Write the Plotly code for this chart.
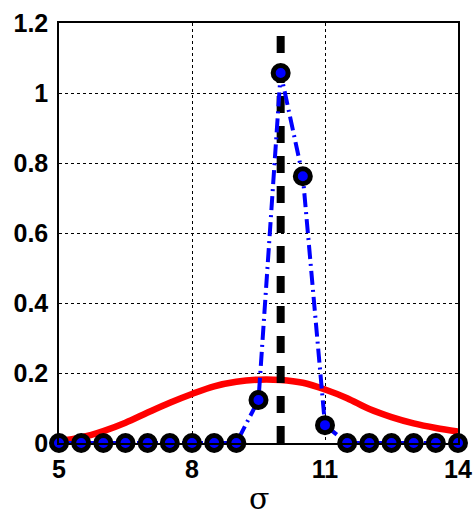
import plotly.graph_objects as go

# Sampled estimate on the sigma grid
sigma = [5, 5.5, 6, 6.5, 7, 7.5, 8, 8.5, 9, 9.5, 10, 10.5, 11, 11.5, 12, 12.5, 13, 13.5, 14]
estimate = [0, 0, 0, 0, 0, 0, 0, 0, 0, 0.123, 1.057, 0.762, 0.051, 0, 0, 0, 0, 0, 0]

# Smooth reference density
density = [0.006, 0.016, 0.034, 0.058, 0.087, 0.115, 0.140, 0.162, 0.175, 0.181,
           0.180, 0.172, 0.153, 0.128, 0.097, 0.074, 0.056, 0.043, 0.033]

# True sigma marker
true_sigma = 10
y_span = [0, 1.2]

x_ticks = [5, 8, 11, 14]
y_ticks = [0, 0.2, 0.4, 0.6, 0.8, 1, 1.2]
y_tick_text = ["0", "0.2", "0.4", "0.6", "0.8", "1", "1.2"]
x_label = "σ"

fig = go.Figure()

fig.add_trace(go.Scatter(
    x=sigma, y=density, mode="lines",
    line=dict(color="#ff0000", width=6.5, shape="spline"),
    hoverinfo="skip",
))

fig.add_trace(go.Scatter(
    x=[true_sigma, true_sigma], y=y_span, mode="lines",
    line=dict(color="black", width=8, dash="17px,13px"),
    hoverinfo="skip",
))

fig.add_trace(go.Scatter(
    x=sigma, y=estimate, mode="lines+markers",
    line=dict(color="#0000ff", width=4, dash="14px,5px,2px,5px"),
    marker=dict(size=15, color="#0000ff", line=dict(color="black", width=5)),
    cliponaxis=False,
))

axis_font = dict(family="Liberation Sans, Arial, sans-serif", size=25, color="black")

fig.update_layout(
    width=476, height=518,
    margin=dict(l=59, r=18, t=23, b=75),
    paper_bgcolor="white", plot_bgcolor="white",
    showlegend=False,
    xaxis=dict(
        range=[5, 14], tickvals=x_ticks, ticktext=[f"<b>{v}</b>" for v in x_ticks],
        tickfont=axis_font, ticks="", ticklen=0, ticklabelstandoff=3,
        showgrid=True, gridcolor="black", gridwidth=1, griddash="dot",
        showline=True, linecolor="black", linewidth=1.5, mirror=True,
        zeroline=False, automargin=False,
    ),
    yaxis=dict(
        range=[0, 1.2], tickvals=y_ticks, ticktext=[f"<b>{t}</b>" for t in y_tick_text],
        tickfont=axis_font, ticks="", ticklen=0, ticklabelstandoff=4,
        showgrid=True, gridcolor="black", gridwidth=1, griddash="dot",
        showline=True, linecolor="black", linewidth=1.5, mirror=True,
        zeroline=False, automargin=False,
    ),
    annotations=[dict(
        text=x_label, xref="paper", yref="paper", x=0.5, y=-0.132,
        xanchor="center", yanchor="middle", showarrow=False,
        font=dict(family="DejaVu Serif, serif", size=30, color="black"),
    )],
)

fig.write_html("out.html")
